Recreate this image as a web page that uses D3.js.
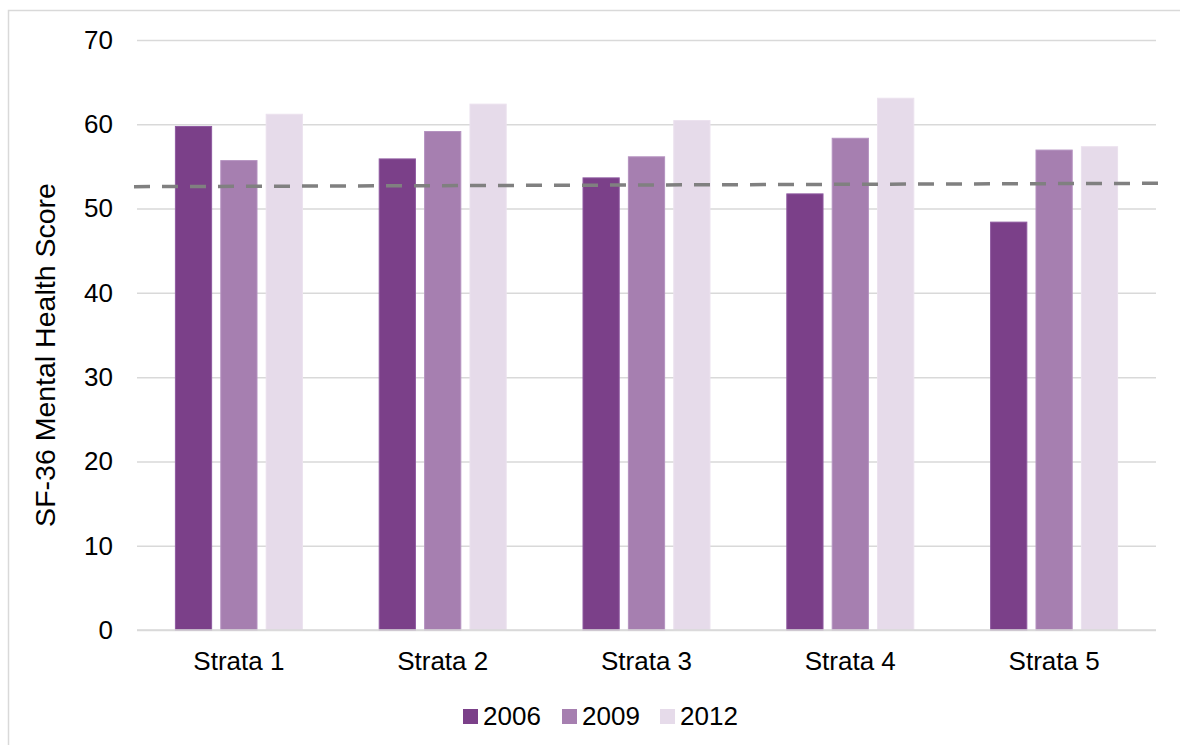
<!DOCTYPE html>
<html>
<head>
<meta charset="utf-8">
<script src="https://cdn.jsdelivr.net/npm/d3@7"></script>
<style>
  html, body { margin: 0; padding: 0; background: #fff; }
  svg { display: block; }
  text { font-family: "Liberation Sans", Arial, sans-serif; fill: #000; }
</style>
</head>
<body>
<svg id="chart" width="1180" height="745"></svg>
<script>
const categories = ["Strata 1", "Strata 2", "Strata 3", "Strata 4", "Strata 5"];
const seriesNames = ["2006", "2009", "2012"];
const values2006 = [59.8, 55.95, 53.7, 51.8, 48.45];
const values2009 = [55.75, 59.2, 56.2, 58.4, 57.0];
const values2012 = [61.25, 62.45, 60.5, 63.15, 57.4];
const trendLine = [52.6, 53.0];   // dashed reference line, left and right ends
const yTicks = [0, 10, 20, 30, 40, 50, 60, 70];
const colors = ["#7b4089", "#a67fb0", "#e6dbea"];
const strokes = ["#8e59a0", "#b592c0", "#ebe1ee"];

const seriesValues = [values2006, values2009, values2012];

(function () {
const svg = d3.select("#chart");
const pLeft = 137, pRight = 1156, pTop = 40, pBottom = 630;

// frame
svg.append("rect")
  .attr("x", 8.5).attr("y", 10.5).attr("width", 1200).attr("height", 800)
  .attr("fill", "none").attr("stroke", "#d9d9d9").attr("stroke-width", 1.5);

const y = d3.scaleLinear().domain([0, 70]).range([pBottom, pTop]);
const x0 = d3.scaleBand().domain(categories).range([pLeft, pRight])
  .paddingInner(0.372).paddingOuter(0.186);
const x1 = d3.scaleBand().domain(seriesNames).range([0, x0.bandwidth()])
  .paddingInner(0.18).paddingOuter(0);

// gridlines + y labels
const yAxis = d3.axisLeft(y).tickValues(yTicks).tickSize(-(pRight - pLeft)).tickPadding(24);
const gy = svg.append("g").attr("transform", `translate(${pLeft},0)`).call(yAxis);
gy.select(".domain").remove();
gy.selectAll(".tick line").attr("stroke", "#d9d9d9").attr("stroke-width", 1.5);
gy.selectAll(".tick text").attr("font-size", 26).attr("fill", "#000")
  .attr("font-family", "Liberation Sans, Arial, sans-serif");

// bars
const groups = svg.append("g").selectAll("g")
  .data(categories).join("g")
  .attr("transform", d => `translate(${x0(d)},0)`);

groups.selectAll("rect")
  .data((c, i) => seriesNames.map((s, k) => ({ s, k, v: seriesValues[k][i] })))
  .join("rect")
  .attr("x", d => x1(d.s) + 0.5)
  .attr("width", x1.bandwidth() - 1)
  .attr("y", d => y(d.v) + 0.5)
  .attr("height", d => y(0) - y(d.v) - 0.5)
  .attr("fill", d => colors[d.k])
  .attr("stroke", d => strokes[d.k])
  .attr("stroke-width", 1);

// zero line on top
svg.append("line").attr("x1", pLeft).attr("x2", pRight)
  .attr("y1", y(0)).attr("y2", y(0))
  .attr("stroke", "#d9d9d9").attr("stroke-width", 1.5);

// category labels
const xAxis = d3.axisBottom(x0).tickSize(0).tickPadding(22);
const gx = svg.append("g").attr("transform", `translate(0,${pBottom})`).call(xAxis);
gx.select(".domain").remove();
gx.selectAll(".tick text").attr("font-size", 26).attr("fill", "#000")
  .attr("font-family", "Liberation Sans, Arial, sans-serif");

// dashed trend line
const xl = d3.scaleLinear().domain([0, 1]).range([134, 1159]);
const line = d3.line().x((d, i) => xl(i)).y(d => y(d));
svg.append("path").datum(trendLine)
  .attr("d", line)
  .attr("fill", "none")
  .attr("stroke", "#808080")
  .attr("stroke-width", 3.5)
  .attr("stroke-dasharray", "16,12");

// y title
svg.append("text")
  .attr("transform", "translate(55,355) rotate(-90)")
  .attr("text-anchor", "middle")
  .attr("font-size", 28.5)
  .text("SF-36 Mental Health Score");

// legend
const legendX = [463, 562, 660];
const lg = svg.append("g").selectAll("g").data(seriesNames).join("g")
  .attr("transform", (d, i) => `translate(${legendX[i]},709)`);
lg.append("rect").attr("width", 15).attr("height", 15)
  .attr("fill", (d, i) => colors[i]);
lg.append("text").attr("x", 20).attr("y", 16)
  .attr("font-size", 26).text(d => d);
})();
</script>
</body>
</html>
